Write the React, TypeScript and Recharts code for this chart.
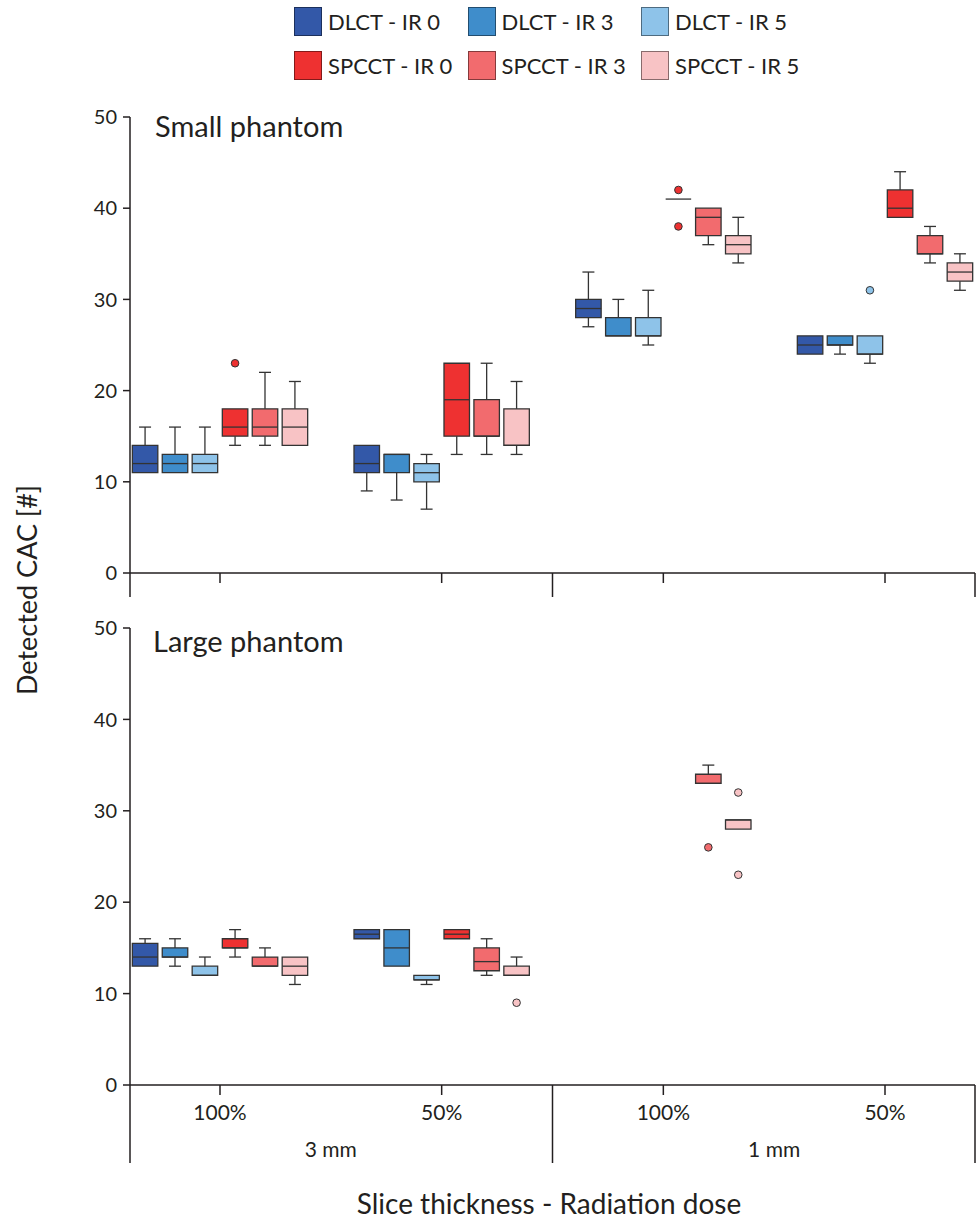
import React from 'react';
import { ComposedChart, XAxis, YAxis, Scatter, ReferenceArea, ReferenceLine } from 'recharts';

type Box = [number, number, number, number, number] | null; // [min, q1, median, q3, max]

const doseLabels = ['100%', '50%', '100%', '50%'];
const thicknessLabels = ['3 mm', '1 mm'];
const seriesNames = ['DLCT - IR 0', 'DLCT - IR 3', 'DLCT - IR 5', 'SPCCT - IR 0', 'SPCCT - IR 3', 'SPCCT - IR 5'];
const seriesColors = ['#3358a8', '#3f8dcb', '#8ec3e9', '#ee3131', '#f26b6e', '#f8c3c5'];
const yTicks = [0, 10, 20, 30, 40, 50];

// Small phantom, one entry per category
const smallDlctIr0: Box[] = [[11, 11, 12, 14, 16], [9, 11, 12, 14, 14], [27, 28, 29, 30, 33], [24, 24, 25, 26, 26]];
const smallDlctIr3: Box[] = [[11, 11, 12, 13, 16], [8, 11, 13, 13, 13], [26, 26, 26, 28, 30], [24, 25, 25, 26, 26]];
const smallDlctIr5: Box[] = [[11, 11, 12, 13, 16], [7, 10, 11, 12, 13], [25, 26, 26, 28, 31], [23, 24, 24, 26, 26]];
const smallSpcctIr0: Box[] = [[14, 15, 16, 18, 18], [13, 15, 19, 23, 23], [41, 41, 41, 41, 41], [39, 39, 40, 42, 44]];
const smallSpcctIr3: Box[] = [[14, 15, 16, 18, 22], [13, 15, 15, 19, 23], [36, 37, 39, 40, 40], [34, 35, 35, 37, 38]];
const smallSpcctIr5: Box[] = [[14, 14, 16, 18, 21], [13, 14, 14, 18, 21], [34, 35, 36, 37, 39], [31, 32, 33, 34, 35]];
// [series, category, value]
const smallOutliers: [number, number, number][] = [[3, 0, 23], [3, 2, 42], [3, 2, 38], [2, 3, 31]];

// Large phantom
const largeDlctIr0: Box[] = [[13, 13, 14, 15.5, 16], [16, 16, 16.5, 17, 17], null, null];
const largeDlctIr3: Box[] = [[13, 14, 14, 15, 16], [13, 13, 15, 17, 17], null, null];
const largeDlctIr5: Box[] = [[12, 12, 12, 13, 14], [11, 11.5, 11.5, 12, 12], null, null];
const largeSpcctIr0: Box[] = [[14, 15, 15, 16, 17], [16, 16, 16.5, 17, 17], null, null];
const largeSpcctIr3: Box[] = [[13, 13, 13, 14, 15], [12, 12.5, 13.5, 15, 16], [33, 33, 33, 34, 35], null];
const largeSpcctIr5: Box[] = [[11, 12, 13, 14, 14], [12, 12, 12, 13, 14], [28, 28, 29, 29, 29], null];
const largeOutliers: [number, number, number][] = [[5, 1, 9], [4, 2, 26], [5, 2, 32], [5, 2, 23]];

const smallPanel = [smallDlctIr0, smallDlctIr3, smallDlctIr5, smallSpcctIr0, smallSpcctIr3, smallSpcctIr5];
const largePanel = [largeDlctIr0, largeDlctIr3, largeDlctIr5, largeSpcctIr0, largeSpcctIr3, largeSpcctIr5];

const INK = '#231f20';
const EDGE = '#333';
const X_DOMAIN: [number, number] = [-0.406, 3.406];
const X_TICKS = [-0.406, 0, 0.5, 1, 1.5, 2, 2.5, 3, 3.406];
const OFFSETS = [-0.338, -0.203, -0.068, 0.068, 0.203, 0.338];
const HALF_BOX = 0.0575;
const HALF_CAP = 0.027;

function renderBoxes(panel: Box[][]) {
  const els: React.ReactNode[] = [];
  const line = { stroke: EDGE, strokeWidth: 1.3, ifOverflow: 'visible' as const };
  panel.forEach((series, s) =>
    series.forEach((b, c) => {
      if (!b) return;
      const [min, q1, med, q3, max] = b;
      const cx = c + OFFSETS[s];
      const k = `${s}-${c}`;
      if (max > q3) {
        els.push(<ReferenceLine key={k + 'uw'} segment={[{ x: cx, y: q3 }, { x: cx, y: max }]} {...line} />);
        els.push(<ReferenceLine key={k + 'uc'} segment={[{ x: cx - HALF_CAP, y: max }, { x: cx + HALF_CAP, y: max }]} {...line} />);
      }
      if (min < q1) {
        els.push(<ReferenceLine key={k + 'lw'} segment={[{ x: cx, y: min }, { x: cx, y: q1 }]} {...line} />);
        els.push(<ReferenceLine key={k + 'lc'} segment={[{ x: cx - HALF_CAP, y: min }, { x: cx + HALF_CAP, y: min }]} {...line} />);
      }
      if (q3 > q1) {
        els.push(
          <ReferenceArea
            key={k + 'box'}
            x1={cx - HALF_BOX}
            x2={cx + HALF_BOX}
            y1={q1}
            y2={q3}
            fill={seriesColors[s]}
            fillOpacity={1}
            stroke={EDGE}
            strokeWidth={1.3}
            ifOverflow="visible"
          />
        );
      }
      els.push(<ReferenceLine key={k + 'med'} segment={[{ x: cx - HALF_BOX, y: med }, { x: cx + HALF_BOX, y: med }]} {...line} />);
    })
  );
  return els;
}

function renderOutliers(list: [number, number, number][], id: string) {
  return seriesColors.map((color, s) => {
    const pts = list.filter((o) => o[0] === s).map((o) => ({ x: o[1] + OFFSETS[s], y: o[2] }));
    if (!pts.length) return null;
    return (
      <Scatter
        key={id + s}
        data={pts}
        isAnimationActive={false}
        shape={(p: any) => <circle cx={p.cx} cy={p.cy} r={3.8} fill={color} stroke={EDGE} strokeWidth={1} />}
      />
    );
  });
}

const makeTick = (withLabels: boolean, sepLen: number) => (props: any) => {
  const { x, y, payload } = props;
  const v = payload.value as number;
  const isSep = v < 0 || v > 3 || v === 1.5;
  if (isSep) return <line x1={x} x2={x} y1={y} y2={y + sepLen} stroke={INK} strokeWidth={1.5} />;
  if (Number.isInteger(v)) {
    return (
      <g>
        <line x1={x} x2={x} y1={y} y2={y + 10} stroke={INK} strokeWidth={1.5} />
        {withLabels && (
          <text x={x} y={y + 28} dy="0.35em" textAnchor="middle" fontSize={21} fill={INK}>
            {doseLabels[v]}
          </text>
        )}
      </g>
    );
  }
  if (!withLabels) return <g />;
  return (
    <text x={x} y={y + 65} dy="0.35em" textAnchor="middle" fontSize={21} fill={INK}>
      {thicknessLabels[Math.floor(v / 2)]}
    </text>
  );
};

const Panel = ({ panel, outliers, top, height, marginTop, axisHeight, withLabels, sepLen, id }: any) => (
  <div style={{ position: 'absolute', left: 0, top }}>
    <ComposedChart width={976} height={height} margin={{ top: marginTop, right: 1, bottom: 0, left: 0 }}>
      <XAxis
        type="number"
        dataKey="x"
        domain={X_DOMAIN}
        ticks={X_TICKS}
        interval={0}
        allowDataOverflow
        height={axisHeight}
        tickLine={false}
        tickSize={0}
        tickMargin={0}
        axisLine={{ stroke: INK, strokeWidth: 1.5 }}
        tick={makeTick(withLabels, sepLen)}
      />
      <YAxis
        type="number"
        dataKey="y"
        domain={[0, 50]}
        ticks={yTicks}
        width={130}
        tickSize={7}
        tickMargin={6}
        axisLine={{ stroke: INK, strokeWidth: 1.5 }}
        tickLine={{ stroke: INK, strokeWidth: 1.5 }}
        tick={{ fill: INK, fontSize: 20 }}
      />
      {renderBoxes(panel)}
      {renderOutliers(outliers, id)}
    </ComposedChart>
  </div>
);

export default function App() {
  return (
    <div style={{ position: 'absolute', left: 0, top: 0, width: 976, height: 1219, background: '#fff', fontFamily: 'Lato, sans-serif', color: INK }}>
      {seriesNames.map((name, i) => (
        <div
          key={name}
          style={{ position: 'absolute', left: 294 + (i % 3) * 173.5, top: i < 3 ? 7 : 51, height: 29, display: 'flex', alignItems: 'center' }}
        >
          <div style={{ width: 28, height: 29, background: seriesColors[i], border: '1px solid rgba(0,0,0,0.45)', boxSizing: 'border-box' }} />
          <span style={{ marginLeft: 6, fontSize: 22, whiteSpace: 'nowrap' }}>{name}</span>
        </div>
      ))}

      <Panel panel={smallPanel} outliers={smallOutliers} top={0} height={603} marginTop={117} axisHeight={30} withLabels={false} sepLen={24} id="s" />
      <Panel panel={largePanel} outliers={largeOutliers} top={603} height={616} marginTop={25} axisHeight={134} withLabels sepLen={78} id="l" />

      <div style={{ position: 'absolute', left: 155, top: 111, fontSize: 29, lineHeight: '29px' }}>Small phantom</div>
      <div style={{ position: 'absolute', left: 153, top: 626, fontSize: 29, lineHeight: '29px' }}>Large phantom</div>

      <div
        style={{
          position: 'absolute',
          left: 26,
          top: 590,
          transform: 'translate(-50%, -50%) rotate(-90deg)',
          fontSize: 27,
          lineHeight: '27px',
          whiteSpace: 'nowrap',
        }}
      >
        Detected CAC [#]
      </div>
      <div
        style={{ position: 'absolute', left: 549, top: 1203, transform: 'translate(-50%, -50%)', fontSize: 28, lineHeight: '28px', whiteSpace: 'nowrap' }}
      >
        Slice thickness - Radiation dose
      </div>
    </div>
  );
}
